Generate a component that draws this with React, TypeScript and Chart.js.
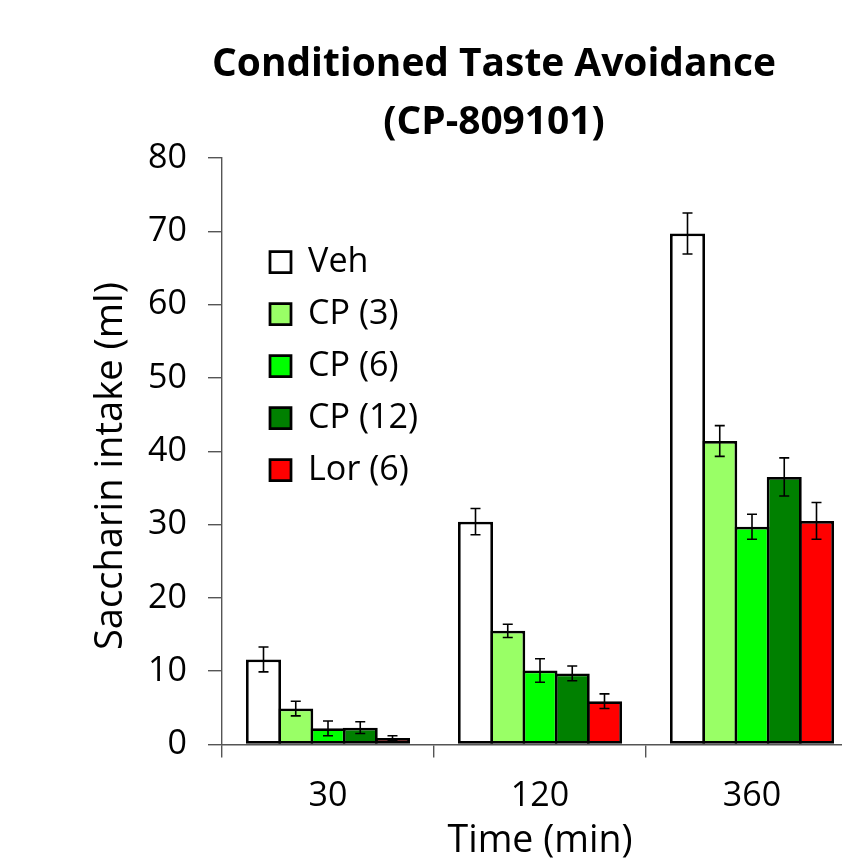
import React, { useEffect, useRef } from 'react';
import { Chart, registerables } from 'chart.js';

Chart.register(...registerables);

const categories = ['30', '120', '360'];
const titleLines = ['Conditioned Taste Avoidance', '(CP-809101)'];
const xTitle = 'Time (min)';
const yTitle = 'Saccharin intake (ml)';

const seriesNames = ['Veh', 'CP (3)', 'CP (6)', 'CP (12)', 'Lor (6)'];
const vehValues = [11.6, 30.4, 69.7];
const vehErrors = [1.7, 1.8, 2.8];
const cp3Values = [4.9, 15.5, 41.4];
const cp3Errors = [1.0, 0.9, 2.1];
const cp6Values = [2.2, 10.1, 29.7];
const cp6Errors = [1.0, 1.6, 1.7];
const cp12Values = [2.3, 9.7, 36.5];
const cp12Errors = [0.8, 1.0, 2.6];
const lorValues = [0.9, 5.9, 30.5];
const lorErrors = [0.3, 1.0, 2.5];
const seriesColors = ['#FFFFFF', '#99FF66', '#00FF00', '#008000', '#FF0000'];

const yMin = 0;
const yMax = 80;
const yStep = 10;

const FONT = '"Open Sans"';

function fitSize(text: string, targetWidth: number, weight: string): number {
  const c = document.createElement('canvas').getContext('2d');
  if (!c) return 36;
  c.font = `${weight} 100px ${FONT}`;
  const w = c.measureText(text).width;
  return (100 * targetWidth) / w;
}

const errorBarPlugin = {
  id: 'errorBars',
  afterDatasetsDraw(chart: any) {
    const ctx = chart.ctx;
    const yScale = chart.scales.y;
    ctx.save();
    ctx.strokeStyle = '#000000';
    ctx.lineWidth = 1.6;
    chart.data.datasets.forEach((ds: any, i: number) => {
      const meta = chart.getDatasetMeta(i);
      meta.data.forEach((el: any, j: number) => {
        const v = ds.data[j];
        const e = ds.errors[j];
        const x = el.x;
        const yt = yScale.getPixelForValue(v + e);
        const yb = yScale.getPixelForValue(v - e);
        const cap = 5;
        ctx.beginPath();
        ctx.moveTo(x, yt);
        ctx.lineTo(x, yb);
        ctx.moveTo(x - cap, yt);
        ctx.lineTo(x + cap, yt);
        ctx.moveTo(x - cap, yb);
        ctx.lineTo(x + cap, yb);
        ctx.stroke();
      });
    });
    ctx.restore();
  },
};

export default function App() {
  const canvasRef = useRef<HTMLCanvasElement | null>(null);

  useEffect(() => {
    const canvas = canvasRef.current;
    if (!canvas) return;

    const titleSize = fitSize(titleLines[0], 564, 'bold');
    const yTitleSize = fitSize(yTitle, 368, 'normal');
    const xTitleSize = fitSize(xTitle, 185, 'normal');
    const legendSize = fitSize('CP (12)', 110, 'normal');
    const legendPad = 52 - legendSize;
    const yTitleLH = yTitleSize * 1.2;
    const xTitleLH = xTitleSize * 1.2;

    const legendPlace = {
      id: 'legendPlace',
      afterLayout(chart: any) {
        const lg = chart.legend;
        const ca = chart.chartArea;
        if (lg && ca) {
          const w = lg.width;
          const h = lg.height;
          lg.left = ca.left + 48 - legendPad;
          lg.right = lg.left + w;
          lg.top = ca.top + 104 - legendPad - legendSize / 2;
          lg.bottom = lg.top + h;
        }
      },
    };

    const values = [vehValues, cp3Values, cp6Values, cp12Values, lorValues];
    const errors = [vehErrors, cp3Errors, cp6Errors, cp12Errors, lorErrors];
    const border = 2.75;
    const datasets = seriesNames.map((name, i) => ({
      label: name,
      data: values[i],
      errors: errors[i],
      backgroundColor: seriesColors[i],
      borderColor: '#000000',
      borderWidth: border,
      borderSkipped: false,
      categoryPercentage: 0.7606,
      barPercentage: 1.0853,
      yAxisID: 'y',
    }));

    const chart = new Chart(canvas, {
      type: 'bar',
      data: { labels: categories, datasets: datasets as any },
      plugins: [errorBarPlugin, legendPlace],
      options: {
        animation: false,
        responsive: false,
        devicePixelRatio: 1,
        layout: { padding: { left: 85, right: 0, top: 0, bottom: 17 } },
        plugins: {
          tooltip: { enabled: false },
          title: {
            display: true,
            text: titleLines,
            color: '#000000',
            font: { family: FONT, size: titleSize, weight: 'bold', lineHeight: 58 / titleSize },
            padding: { top: 36, bottom: 6 },
          },
          legend: {
            position: 'chartArea' as any,
            align: 'start',
            labels: {
              boxWidth: 21,
              boxHeight: 21,
              padding: legendPad,
              color: '#000000',
              font: { family: FONT, size: legendSize },
            },
          },
        },
        scales: {
          x: {
            type: 'category',
            offset: true,
            grid: {
              display: true,
              drawOnChartArea: false,
              offset: true,
              tickLength: 13,
              color: '#555555',
              lineWidth: 1.4,
            },
            border: { display: true, color: '#555555', width: 1.4 },
            ticks: { color: '#000000', font: { family: FONT, size: 34 }, padding: 18 },
            title: {
              display: true,
              text: xTitle,
              color: '#000000',
              font: { family: FONT, size: xTitleSize, lineHeight: 1.2 },
              padding: 0,
            },
            afterFit: (s: any) => {
              s.height = 97 + xTitleLH / 2;
            },
          },
          y: {
            type: 'linear',
            position: 'left',
            min: yMin,
            max: yMax,
            ticks: {
              stepSize: yStep,
              color: '#000000',
              font: { family: FONT, size: 34 },
              padding: 21,
            },
            grid: {
              display: true,
              drawOnChartArea: false,
              tickLength: 14,
              color: '#555555',
              lineWidth: 1.4,
            },
            border: { display: true, color: '#555555', width: 1.4 },
            title: {
              display: true,
              text: yTitle + '   ',
              color: '#000000',
              font: { family: FONT, size: yTitleSize, lineHeight: 1.2 },
              padding: { top: 26 - yTitleLH / 2, bottom: 0 },
            },
            afterFit: (s: any) => {
              s.width = 137;
            },
          },
          y2: {
            type: 'linear',
            position: 'right',
            display: true,
            grid: { display: false },
            ticks: { display: false },
            border: { display: false },
            afterFit: (s: any) => {
              s.width = 45;
            },
          },
        },
      } as any,
    });

    return () => {
      chart.destroy();
    };
  }, []);

  const canvasHeight = 744 + 17 + 120;

  return (
    <div
      style={{
        position: 'fixed',
        left: 0,
        top: 0,
        width: 842,
        height: 860,
        overflow: 'hidden',
        background: '#ffffff',
      }}
    >
      <canvas
        ref={canvasRef}
        width={903}
        height={canvasHeight}
        style={{ display: 'block', width: 903, height: canvasHeight }}
      />
    </div>
  );
}
